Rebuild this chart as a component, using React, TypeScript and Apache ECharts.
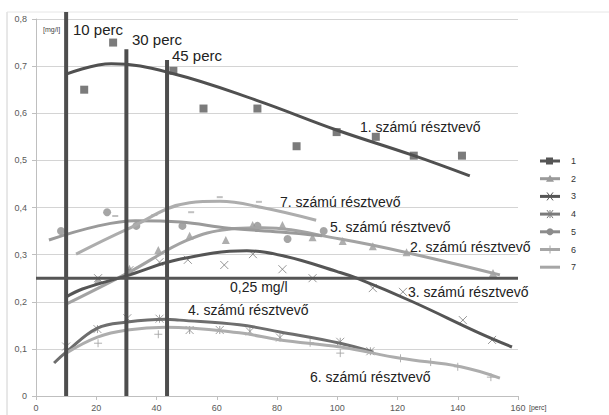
import React, { useEffect, useRef } from "react";
import * as echarts from "echarts";

// measured points per participant [minute, mg/l]
const s1Points = [[16, 0.65], [25.6, 0.75], [45.6, 0.69], [55.6, 0.61], [73.5, 0.61], [86.5, 0.53], [99.8, 0.56], [112.8, 0.55], [125.4, 0.51], [141.4, 0.51]];
const s2Points = [[20.6, 0.246], [31, 0.27], [40.6, 0.31], [51, 0.34], [63, 0.331], [71.9, 0.363], [81.8, 0.363], [91.8, 0.337], [101.8, 0.329], [111.8, 0.318], [123, 0.305], [151.7, 0.261]];
const s3Points = [[20.6, 0.25], [31, 0.267], [41, 0.284], [50.4, 0.289], [62.5, 0.278], [72, 0.301], [81.8, 0.269], [91.8, 0.25], [111.8, 0.229], [121.8, 0.221], [141.7, 0.161], [151.4, 0.119]];
const s4Points = [[10, 0.105], [20.4, 0.142], [30.3, 0.165], [41, 0.164], [51, 0.14], [61, 0.14], [71, 0.137], [81, 0.124], [101, 0.115], [111, 0.095]];
const s5Points = [[8.3, 0.35], [23.6, 0.39], [33.3, 0.361], [48.6, 0.361], [73.5, 0.361], [83.5, 0.333], [95.5, 0.35]];
const s6Points = [[20.6, 0.112], [40.6, 0.131], [91, 0.113], [101, 0.091], [121, 0.08], [131, 0.072], [140, 0.062], [151, 0.04]];
const s7Points = [[26.3, 0.382], [39.3, 0.384], [51.5, 0.39], [61, 0.422], [74, 0.412]];

// trendlines
const t1 = [[10, 0.683], [25, 0.705], [45, 0.685], [73, 0.628], [100, 0.564], [125, 0.511], [144, 0.467]];
const t2 = [[10, 0.195], [31, 0.263], [50, 0.33], [64, 0.354], [75, 0.357], [101, 0.333], [124, 0.303], [154, 0.257]];
const t3 = [[10, 0.21], [15.4, 0.227], [30, 0.255], [47.6, 0.29], [70, 0.308], [83, 0.296], [100, 0.264], [106.5, 0.25], [125, 0.2], [147, 0.134], [158, 0.104]];
const t4 = [[6, 0.07], [10, 0.093], [20.4, 0.144], [30.3, 0.157], [43, 0.163], [47.6, 0.161], [67.5, 0.151], [81, 0.136], [101, 0.112], [112, 0.093]];
const t5 = [[4.3, 0.331], [20, 0.36], [33, 0.372], [48, 0.369], [64, 0.356], [81, 0.348], [95, 0.34]];
const t6 = [[10, 0.091], [20.4, 0.125], [30.3, 0.14], [43, 0.146], [67.5, 0.134], [81, 0.119], [101, 0.104], [121, 0.08], [141, 0.062], [154, 0.038]];
const t7 = [[13.3, 0.301], [30, 0.353], [51, 0.41], [61, 0.413], [75, 0.4], [93, 0.373]];

const markerMinutes = [10, 30, 43.5];
const markerTops = [0.815, 0.736, 0.713];
const markerLabels = ["10 perc", "30 perc", "45 perc"];
const threshold = 0.25;
const legendNames = ["1", "2", "3", "4", "5", "6", "7"];
const participantLabels = ["1. számú résztvevő", "2. számú résztvevő", "3. számú résztvevő", "4. számú résztvevő", "5. számú résztvevő", "6. számú résztvevő", "7. számú résztvevő"];

const FONT = "Liberation Sans";
const xPath = "path://M0,0L10,10M10,0L0,10";
const starPath = "path://M0,0L10,10M10,0L0,10M5,0L5,10";
const plusPath = "path://M5,0L5,10M0,5L10,5";

export default function App() {
  const ref = useRef<HTMLDivElement>(null);
  useEffect(() => {
    if (!ref.current) return;
    const chart = echarts.init(ref.current, null, { renderer: "svg" });

    const trendColors = ["#505050", "#a3a3a3", "#555555", "#6e6e6e", "#9a9a9a", "#adadad", "#adadad"];
    const trends = [t1, t2, t3, t4, t5, t6, t7];
    const scatterDefs: any[] = [
      { data: s1Points, symbol: "rect", size: 8, style: { color: "#5a5a5a" } },
      { data: s2Points, symbol: "triangle", size: 8, style: { color: "#9a9a9a" } },
      { data: s3Points, symbol: xPath, size: 8, style: { color: "transparent", borderColor: "#7a7a7a", borderWidth: 1 } },
      { data: s4Points, symbol: starPath, size: 8, style: { color: "transparent", borderColor: "#8a8a8a", borderWidth: 1 } },
      { data: s5Points, symbol: "circle", size: 8, style: { color: "#8f8f8f" } },
      { data: s6Points, symbol: plusPath, size: 8, style: { color: "transparent", borderColor: "#9e9e9e", borderWidth: 1 } },
      { data: s7Points, symbol: "rect", size: [6, 2], style: { color: "#b0b0b0" } },
    ];

    const series: any[] = [];
    scatterDefs.forEach((d, i) => {
      series.push({
        type: "scatter",
        name: legendNames[i],
        data: d.data,
        symbol: d.symbol,
        symbolSize: d.size,
        itemStyle: d.style,
        z: 3,
      });
    });
    trends.forEach((t, i) => {
      series.push({
        type: "line",
        data: t,
        smooth: 0.4,
        showSymbol: false,
        lineStyle: { color: trendColors[i], width: 3 },
        z: 4,
      });
    });
    markerMinutes.forEach((m, i) => {
      series.push({
        type: "line",
        data: [[m, 0], [m, markerTops[i]]],
        showSymbol: false,
        clip: false,
        lineStyle: { color: "#4d4d4d", width: 4 },
        z: 5,
      });
    });
    series.push({
      type: "line",
      data: [[0, threshold], [160, threshold]],
      showSymbol: false,
      lineStyle: { color: "#555555", width: 3 },
      z: 5,
    });

    const text = (x: number, y: number, t: string, size: number, color = "#222") => ({
      type: "text",
      x,
      y,
      z: 100,
      style: { text: t, font: `${size}px "${FONT}"`, fill: color, textVerticalAlign: "middle" },
    });

    const graphics: any[] = [
      { type: "line", shape: { x1: 7, y1: 12, x2: 7, y2: 415 }, style: { stroke: "#d0d0d0", lineWidth: 1 } },
      { type: "line", shape: { x1: 7, y1: 12, x2: 609, y2: 12 }, style: { stroke: "#e6e6e6", lineWidth: 1 } },
      text(73, 29, markerLabels[0], 15),
      text(132, 39, markerLabels[1], 15),
      text(172, 55, markerLabels[2], 15),
      text(43, 29, "[mg/l]", 7, "#444"),
      text(529, 407, "[perc]", 7, "#444"),
      text(360, 127, participantLabels[0], 14),
      text(280, 202, participantLabels[6], 14),
      text(330, 227, participantLabels[4], 14),
      text(410, 247, participantLabels[1], 14),
      text(408, 292, participantLabels[2], 14),
      text(230, 287, "0,25 mg/l", 14),
      text(188, 310, participantLabels[3], 14),
      text(310, 377, participantLabels[5], 14),
    ];

    // legend
    const legendColors = ["#555555", "#9a9a9a", "#555555", "#7a7a7a", "#8c8c8c", "#a6a6a6", "#a6a6a6"];
    legendNames.forEach((n, i) => {
      const y = 161 + i * 17.7;
      const c = legendColors[i];
      graphics.push({ type: "line", shape: { x1: 540, y1: y, x2: 560, y2: y }, style: { stroke: c, lineWidth: 3 } });
      if (i === 0) graphics.push({ type: "rect", shape: { x: 546, y: y - 3.5, width: 7, height: 7 }, style: { fill: c } });
      if (i === 1) graphics.push({ type: "polygon", shape: { points: [[550, y - 4], [554, y + 3], [546, y + 3]] }, style: { fill: c } });
      if (i === 2 || i === 3) {
        graphics.push({ type: "line", shape: { x1: 547, y1: y - 4, x2: 553, y2: y + 4 }, style: { stroke: c, lineWidth: 1 } });
        graphics.push({ type: "line", shape: { x1: 553, y1: y - 4, x2: 547, y2: y + 4 }, style: { stroke: c, lineWidth: 1 } });
        if (i === 3) graphics.push({ type: "line", shape: { x1: 550, y1: y - 4, x2: 550, y2: y + 4 }, style: { stroke: c, lineWidth: 1 } });
      }
      if (i === 4) graphics.push({ type: "circle", shape: { cx: 550, cy: y, r: 3.5 }, style: { fill: c } });
      if (i === 5) graphics.push({ type: "line", shape: { x1: 550, y1: y - 4, x2: 550, y2: y + 4 }, style: { stroke: c, lineWidth: 1 } });
      graphics.push(text(571, y, n, 9, "#333"));
    });

    chart.setOption({
      animation: false,
      backgroundColor: "#ffffff",
      grid: { left: 36, right: 91, top: 19, bottom: 19, containLabel: false },
      xAxis: {
        type: "value",
        min: 0,
        max: 160,
        interval: 20,
        axisLine: { show: true, lineStyle: { color: "#bfbfbf" } },
        axisTick: { show: true, length: 4, lineStyle: { color: "#bfbfbf" } },
        axisLabel: { color: "#595959", fontSize: 9, fontFamily: FONT, margin: 7 },
        splitLine: { show: false },
      },
      yAxis: {
        type: "value",
        min: 0,
        max: 0.8,
        interval: 0.1,
        axisLine: { show: true, lineStyle: { color: "#bfbfbf" } },
        axisTick: { show: true, length: 4, lineStyle: { color: "#bfbfbf" } },
        axisLabel: {
          color: "#595959",
          fontSize: 9,
          fontFamily: FONT,
          margin: 9,
          formatter: (v: number) => (Math.round(v * 10) / 10).toString().replace(".", ","),
        },
        splitLine: { show: true, lineStyle: { color: "#d4d4d4" } },
      },
      series,
      graphic: graphics,
    });
    return () => chart.dispose();
  }, []);
  return <div ref={ref} style={{ position: "fixed", left: 0, top: 0, width: 609, height: 415 }} />;
}
